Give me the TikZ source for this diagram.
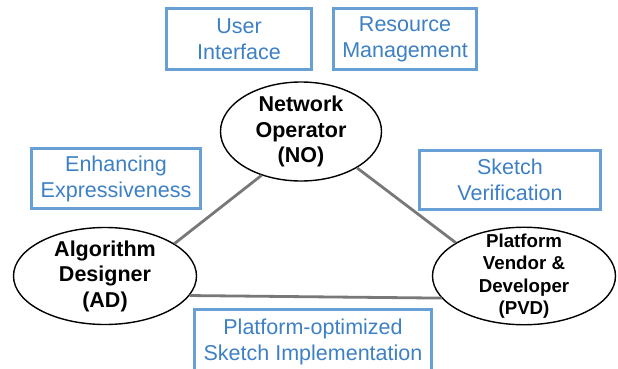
\documentclass[tikz,border=0pt]{standalone}
\usepackage{fontspec}
\setmainfont{Liberation Sans}
\usetikzlibrary{shapes.geometric}
\definecolor{boxblue}{RGB}{104,160,214}
\definecolor{textblue}{RGB}{61,128,196}
\definecolor{linkgray}{RGB}{120,120,120}
\tikzset{
  role/.style={draw, ellipse, line width=1.4pt, inner sep=-8pt, align=center, font=\bfseries\fontsize{21.5}{25.5}\selectfont},
  task/.style={draw=boxblue, line width=2.6pt, text=textblue, inner sep=0pt, align=center, font=\fontsize{21.5}{26}\selectfont},
  link/.style={linkgray, line width=2.8pt}
}
\begin{document}
\begin{tikzpicture}[x=1pt, y=-1pt]
\useasboundingbox (0,0) rectangle (618,369); % page

\node[task, minimum width=145pt, minimum height=61pt] (ui) at (239,39) {User\\Interface}; % top left box
\node[task, minimum width=143pt, minimum height=61pt] (rm) at (405,39) {Resource\\Management}; % top right box
\node[task, minimum width=169pt, minimum height=60pt] (ee) at (116,178.5) {Enhancing\\Expressiveness}; % left box
\node[task, minimum width=181pt, minimum height=59pt] (sv) at (510,180) {Sketch\\Verification}; % right box
\node[task, minimum width=237pt, minimum height=65pt] (psi) at (313,342) {Platform-optimized\\Sketch Implementation}; % bottom box, cut by the page

\node[role, minimum width=161pt, minimum height=99pt] (no) at (301,131.5) {Network\\Operator\\(NO)}; % top role
\node[role, minimum width=183pt, minimum height=97pt] (ad) at (105,276) {Algorithm\\Designer\\(AD)}; % left role
\node[role, minimum width=183pt, minimum height=97pt, font=\bfseries\fontsize{18.7}{22.5}\selectfont] (pvd) at (524,276) {Platform\\Vendor \&\\Developer\\(PVD)}; % right role

\draw[link] (ad.25) -- (no.228); % AD to NO
\draw[link] (no.327) -- (pvd.154); % NO to PVD
\draw[link] (ad.-13) -- (pvd.195); % AD to PVD

\end{tikzpicture}
\end{document}
